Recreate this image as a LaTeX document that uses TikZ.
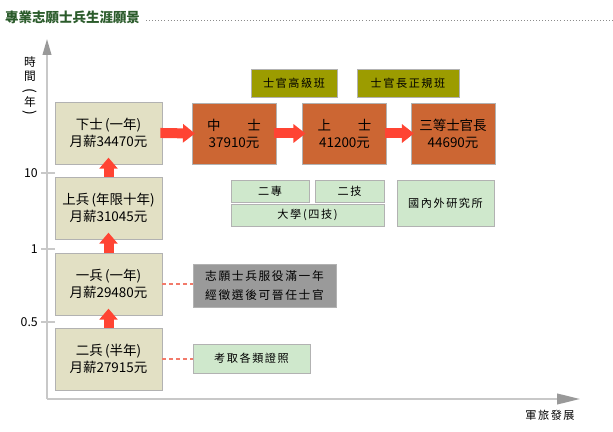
\documentclass[tikz,border=0pt]{standalone}
\usepackage{fontspec}
\setmainfont{Noto Sans CJK TC}
\newfontfamily\cjkwide[LetterSpace=14]{Noto Sans CJK TC}
\usetikzlibrary{arrows.meta}

\definecolor{titleGreen}{HTML}{2B5B2B}
\definecolor{boxBeige}{HTML}{E2E0C4}
\definecolor{boxOrange}{HTML}{CC6633}
\definecolor{boxOlive}{HTML}{9C9C00}
\definecolor{boxGreen}{HTML}{CFE8CC}
\definecolor{boxGray}{HTML}{9A9A9A}
\definecolor{arrowRed}{HTML}{FF4433}
\definecolor{linkRed}{HTML}{F27A6A}
\definecolor{axisGray}{HTML}{C8C8C8}

\begin{document}
\begin{tikzpicture}[x=0.03cm, y=-0.03cm,
    every node/.style={font=\fontsize{10}{12}\selectfont, inner sep=0pt},
    bx/.style 2 args={draw=black!30, line width=0.6pt, minimum width=#1*0.3mm,
        minimum height=#2*0.3mm, align=center},
    rank/.style={bx={107}{62}, fill=boxBeige, font=\fontsize{11.5}{14.5}\selectfont},
    officer/.style={bx={84}{61}, fill=boxOrange, font=\fontsize{11.5}{14.5}\selectfont},
    course/.style={fill=boxOlive, font=\cjkwide\fontsize{9.5}{12}\selectfont},
    study/.style={fill=boxGreen, font=\cjkwide\fontsize{9.5}{12}\selectfont},
    uparrow/.style={arrowRed, line width=3mm,
        -{Triangle[width=5.4mm, length=3.3mm]}, shorten >=-2mm},
    rtarrow/.style={arrowRed, line width=3mm,
        -{Triangle[width=5.4mm, length=3.6mm]}, shorten >=-1mm, shorten <=-0.6mm},
    link/.style={draw=linkRed, line width=1.1pt, dash pattern=on 1.2mm off 0.9mm}]
    \useasboundingbox (0,0) rectangle (613,432);

    % Titulo.
    \node[anchor=west, text=titleGreen, font=\bfseries\fontsize{11.5}{13}\selectfont]
        (title) at (5,17) {專業志願士兵生涯願景};
    \coordinate (lineEnd) at (613,20);
    \draw[black!45, line width=0.6pt, dotted] (title.east |- lineEnd) ++(6,0) -- (lineEnd);

    % Ejes.
    \coordinate (O) at (47,399);
    \coordinate (yTip) at (47,39);
    \coordinate (xTip) at (580,399);
    \draw[axisGray, line width=1.6pt,
        -{Triangle[width=2.6mm, length=4.8mm, color=black!40]}] (O) -- (yTip);
    \draw[axisGray, line width=1.6pt,
        -{Triangle[width=3.2mm, length=6.9mm, color=black!40]}] (O) -- (xTip);
    \node[align=center, font=\fontsize{10}{12}\selectfont] (yLabel) at (30,87)
        {時\\間\\\rotatebox[origin=c]{-90}{\fontsize{12}{12}\selectfont(}\\[-2pt]年\\[-3pt]\rotatebox[origin=c]{-90}{\fontsize{12}{12}\selectfont)}};
    \node[font=\cjkwide\fontsize{9.5}{12}\selectfont] (xLabel) at (550,415) {軍旅發展};

    \foreach \yv/\lab in {173/10, 249/1, 322/0.5} {
        \draw[axisGray, line width=1pt] (41,\yv) -- (55,\yv);
        \node[anchor=east, font=\fontsize{10.5}{12}\selectfont] at (38,\yv) {\lab};
    }

    % Soldados.
    \node[rank] (s2) at (108.5,359) {二兵\,(半年)\\月薪27915元};
    \node[rank] (s1) at (108.5,284) {一兵\,(一年)\\月薪29480元};
    \node[rank] (s0) at (108.5,208) {上兵\,(年限十年)\\月薪31045元};
    \node[rank] (c3) at (108.5,133) {下士\,(一年)\\月薪34470元};

    % Suboficiales.
    \node[officer] (c2) at (234,133.5) {中　　士\\37910元};
    \node[officer] (c1) at (344.5,133.5) {上　　士\\41200元};
    \node[officer] (cm) at (453,133.5) {三等士官長\\44690元};

    % Cursos.
    \node[bx={86}{28}, course] (adv) at (294,83) {士官高級班};
    \node[bx={102}{28}, course] (reg) at (408,83) {士官長正規班};

    % Estudios.
    \node[bx={78}{22}, study] (jc) at (270,191) {二專};
    \node[bx={69}{22}, study] (tc) at (349.5,191) {二技};
    \node[bx={153}{22}, study] (uni) at (307.5,215) {大學\,(四技)};
    \node[bx={97}{46}, study] (grad) at (445.5,203) {國內外研究所};
    \node[bx={117}{29}, study] (cert) at (251.5,358.5) {考取各類證照};
    \node[bx={143}{43}, fill=boxGray, font=\cjkwide\fontsize{10}{16}\selectfont]
        (promo) at (264.5,285.5) {志願士兵服役滿一年\\經徵選後可晉任士官};

    % Flechas.
    \draw[uparrow] (s2.north) -- (s1.south);
    \draw[uparrow] (s1.north) -- (s0.south);
    \draw[uparrow] (s0.north) -- (c3.south);
    \draw[rtarrow] (c3.east) -- (c2.west);
    \draw[rtarrow] (c2.east) -- (c1.west);
    \draw[rtarrow] (c1.east) -- (cm.west);

    \draw[link] (s1.east) -- (s1.east -| promo.west);
    \draw[link] (s2.east) -- (s2.east -| cert.west);
\end{tikzpicture}
\end{document}
